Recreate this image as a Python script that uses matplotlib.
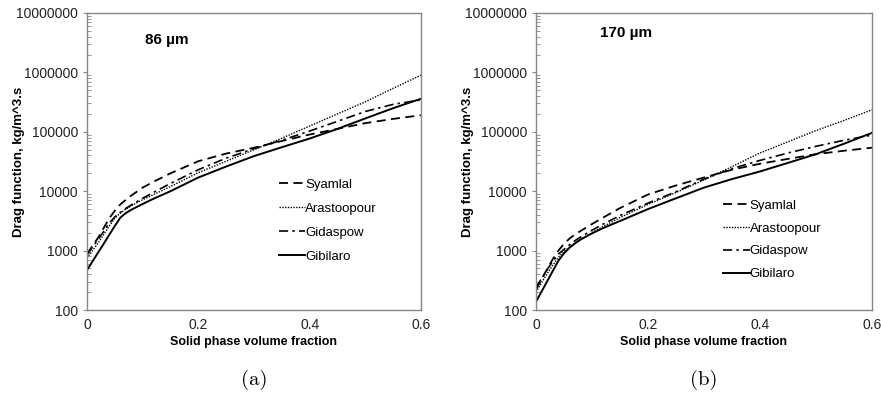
import numpy as np
import matplotlib.pyplot as plt
from matplotlib.ticker import LogLocator, FixedLocator, NullFormatter

plt.rcParams['font.family'] = ['Liberation Sans', 'DejaVu Sans']

# solid phase volume fraction
phi = [0, 0.01, 0.02, 0.03, 0.04, 0.05, 0.06, 0.07, 0.08, 0.1, 0.12, 0.15,
       0.2, 0.25, 0.3, 0.35, 0.4, 0.45, 0.5, 0.55, 0.6]

# (a) 86 um
syamlal_a = [880, 1200, 1650, 2400, 3500, 4700, 6000, 7200, 8500, 11500, 14500, 20000,
             32000, 43000, 54000, 70000, 90000, 112000, 140000, 165000, 190000]
arastoopour_a = [750, 1000, 1350, 1850, 2600, 3500, 4300, 5000, 5700, 7200, 8800, 12000,
                 20500, 32000, 50000, 78000, 125000, 200000, 320000, 540000, 900000]
gidaspow_a = [850, 1150, 1550, 2100, 2900, 3700, 4400, 5150, 5900, 7600, 9600, 13500,
              23000, 36000, 52000, 72000, 103000, 150000, 220000, 290000, 345000]
gibilaro_a = [470, 660, 930, 1300, 1850, 2600, 3600, 4300, 4900, 6100, 7500, 10000,
              17000, 26000, 39000, 55000, 77000, 112000, 168000, 250000, 360000]

# (b) 170 um
syamlal_b = [220, 330, 490, 720, 1000, 1300, 1600, 1880, 2150, 2800, 3600, 5200,
             8800, 12500, 17000, 23000, 29000, 35000, 42000, 48000, 54000]
arastoopour_b = [200, 290, 410, 570, 770, 960, 1150, 1350, 1550, 2000, 2550, 3600,
                 6000, 9500, 15500, 26000, 44000, 68000, 105000, 155000, 235000]
gidaspow_b = [240, 340, 480, 660, 870, 1050, 1250, 1480, 1700, 2200, 2800, 3900,
              6300, 9800, 16000, 24000, 33000, 44000, 57000, 72000, 88000]
gibilaro_b = [138, 205, 305, 455, 675, 900, 1120, 1330, 1540, 1950, 2400, 3150,
              5000, 7600, 11500, 16000, 21500, 30000, 42000, 63000, 96000]

names = ["Syamlal", "Arastoopour", "Gidaspow", "Gibilaro"]
titles = ["86 µm", "170 µm"]
captions = ["(a)", "(b)"]
data = [[syamlal_a, arastoopour_a, gidaspow_a, gibilaro_a],
        [syamlal_b, arastoopour_b, gidaspow_b, gibilaro_b]]

styles = [dict(ls=(0, (5, 3)), lw=1.3),
          dict(ls=(0, (1, 1)), lw=1.0),
          dict(ls=(0, (5.5, 2.5, 1.5, 2.5)), lw=1.2),
          dict(ls="-", lw=1.4)]

W, H = 881, 395
fig = plt.figure(figsize=(W / 100, H / 100), dpi=100)
boxes = [(87, 421), (536, 872)]
title_pos = [(0.174, 0.909), (0.19, 0.933)]
legend_pos = [(0.575, 0.301, 0.9), (0.557, 0.236, 0.8)]
grey = "#868686"

for i, (x0, x1) in enumerate(boxes):
    ax = fig.add_axes([x0 / W, (H - 310) / H, (x1 - x0) / W, 297 / H])
    for name, vals, st in zip(names, data[i], styles):
        ax.plot(phi, vals, color="black", label=name, **st)
    ax.set_yscale("log")
    ax.set_ylim(100, 1e7)
    ax.set_xlim(0, 0.6)
    ax.xaxis.set_major_locator(FixedLocator([0, 0.2, 0.4, 0.6]))
    ax.set_xticklabels(["0", "0.2", "0.4", "0.6"])
    ax.yaxis.set_major_locator(FixedLocator([1e2, 1e3, 1e4, 1e5, 1e6, 1e7]))
    ax.set_yticklabels(["100", "1000", "10000", "100000", "1000000", "10000000"])
    ax.yaxis.set_minor_locator(LogLocator(base=10, subs=np.arange(2, 10)))
    ax.yaxis.set_minor_formatter(NullFormatter())
    for s in ax.spines.values():
        s.set_color(grey)
        s.set_linewidth(1.0)
    ax.tick_params(axis="both", which="major", colors=grey, labelcolor="#222222",
                   labelsize=10, length=3, direction="out")
    ax.tick_params(axis="x", which="major", length=0, pad=6)
    ax.tick_params(axis="y", which="minor", colors=grey, length=3, direction="in")
    ax.set_xlabel("Solid phase volume fraction", fontsize=9, fontweight="bold", labelpad=3)
    ax.set_ylabel("Drag function, kg/m^3.s", fontsize=9.5, fontweight="bold")
    ax.yaxis.set_label_coords(-0.186, 0.5)
    tx, ty = title_pos[i]
    ax.text(tx, ty, titles[i], transform=ax.transAxes, fontsize=11,
            fontweight="bold", va="center")
    lx, ly, sp = legend_pos[i]
    ax.legend(loc="center left", bbox_to_anchor=(lx, ly), frameon=False, fontsize=9.5,
              handlelength=2.0, handletextpad=0.0, labelspacing=sp,
              borderaxespad=0, borderpad=0)
    fig.text((x0 + x1) / 2 / W, 1 - 380 / H, captions[i], ha="center", va="center",
             fontsize=15, fontname="cmr10")

fig.savefig("out.png", dpi=100)
